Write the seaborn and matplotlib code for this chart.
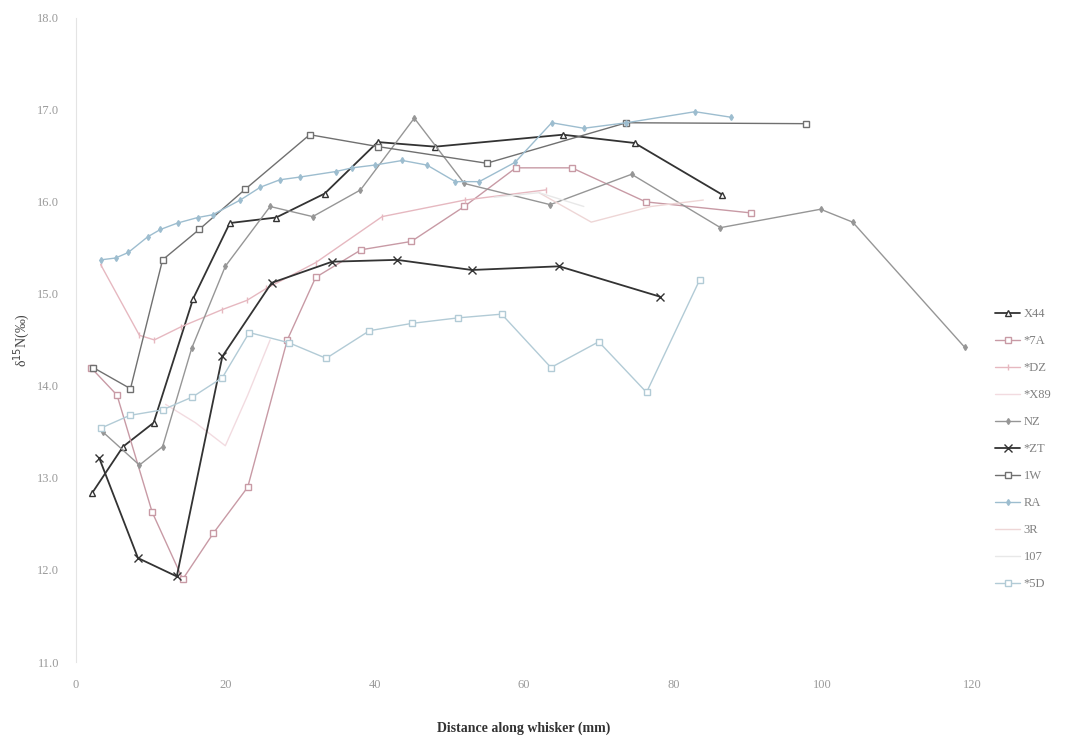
import numpy as np
import pandas as pd
import matplotlib
matplotlib.use('Agg')
import matplotlib.pyplot as plt
import seaborn as sns

# Whisker d15N profiles
x44_x = [2.2, 6.3, 10.4, 15.7, 20.6, 26.8, 33.3, 40.4, 48.1, 65.2, 74.8, 86.5]
x44_y = [12.84, 13.34, 13.6, 14.95, 15.77, 15.83, 16.09, 16.65, 16.6, 16.73, 16.64, 16.08]

a7_x = [2.0, 5.5, 10.2, 14.3, 18.4, 23.0, 28.3, 32.1, 38.2, 44.9, 52.0, 58.9, 66.4, 76.3, 90.4]
a7_y = [14.2, 13.9, 12.63, 11.9, 12.4, 12.9, 14.5, 15.18, 15.48, 15.57, 15.95, 16.37, 16.37, 16.0, 15.88]

dz_x = [3.3, 8.5, 10.5, 14.0, 19.6, 22.9, 25.5, 32.1, 41.0, 52.1, 62.9]
dz_y = [15.32, 14.55, 14.5, 14.64, 14.83, 14.93, 15.06, 15.34, 15.84, 16.02, 16.13]

x89_x = [12.0, 16.0, 20.0, 23.0, 26.0]
x89_y = [13.8, 13.6, 13.35, 13.9, 14.5]

nz_x = [3.6, 8.5, 11.6, 15.5, 20.0, 26.0, 31.7, 38.1, 45.3, 52.0, 63.5, 74.4, 86.3, 99.7, 104.0, 119.0]
nz_y = [13.5, 13.14, 13.34, 14.41, 15.3, 15.95, 15.84, 16.13, 16.91, 16.2, 15.97, 16.3, 15.72, 15.92, 15.78, 14.42]

zt_x = [3.1, 8.3, 13.5, 19.6, 26.2, 34.3, 43.0, 53.0, 64.7, 78.2]
zt_y = [13.22, 12.13, 11.93, 14.32, 15.12, 15.35, 15.37, 15.26, 15.3, 14.97]

w1_x = [2.3, 7.3, 11.6, 16.5, 22.7, 31.3, 40.5, 55.0, 73.7, 97.7]
w1_y = [14.2, 13.97, 15.37, 15.7, 16.14, 16.73, 16.6, 16.42, 16.86, 16.85]

ra_x = [3.3, 5.3, 7.0, 9.6, 11.3, 13.6, 16.3, 18.3, 22.0, 24.7, 27.3, 30.0, 34.8, 37.0, 40.0,
        43.7, 47.0, 50.8, 54.0, 58.8, 63.7, 68.0, 73.7, 82.9, 87.7]
ra_y = [15.37, 15.39, 15.45, 15.62, 15.7, 15.77, 15.83, 15.86, 16.02, 16.16, 16.24, 16.27, 16.33, 16.37, 16.4,
        16.45, 16.4, 16.22, 16.22, 16.43, 16.86, 16.8, 16.86, 16.98, 16.92]

r3_x = [62.0, 69.0, 77.0, 84.0]
r3_y = [16.1, 15.78, 15.95, 16.02]

s107_x = [56.0, 62.0, 68.0]
s107_y = [16.05, 16.1, 15.95]

d5_x = [3.3, 7.2, 11.6, 15.6, 19.6, 23.2, 28.5, 33.5, 39.3, 45.0, 51.2, 57.0, 63.6, 70.0, 76.4, 83.5]
d5_y = [13.54, 13.68, 13.74, 13.88, 14.09, 14.58, 14.47, 14.3, 14.6, 14.68, 14.74, 14.78, 14.2, 14.48, 13.93, 15.15]

series = [
    ('X44', x44_x, x44_y, '#333333', '^', 5, 1.3),
    ('*7A', a7_x, a7_y, '#c89aa5', 's', 5, 1.0),
    ('*DZ', dz_x, dz_y, '#e6b8c0', '|', 4, 1.0),
    ('*X89', x89_x, x89_y, '#f2dbe0', None, 0, 1.0),
    ('NZ', nz_x, nz_y, '#969696', 'd', 3, 1.0),
    ('*ZT', zt_x, zt_y, '#333333', 'x', 6, 1.3),
    ('1W', w1_x, w1_y, '#707070', 's', 5, 1.0),
    ('RA', ra_x, ra_y, '#9dbdcf', 'd', 3, 1.0),
    ('3R', r3_x, r3_y, '#eed6d6', None, 0, 1.0),
    ('107', s107_x, s107_y, '#e8e8e8', None, 0, 1.0),
    ('*5D', d5_x, d5_y, '#b2cbd6', 's', 4, 1.0),
]

sns.set_style('white')
plt.rcParams['font.family'] = ['Liberation Serif', 'DejaVu Serif']

fig = plt.figure(figsize=(10.85, 7.43), dpi=100)
ax = fig.add_axes([0.070, 0.109, 0.826, 0.867])

for name, xs, ys, col, mk, ms, lw in series:
    df = pd.DataFrame({'x': xs, 'y': ys})
    sns.lineplot(data=df, x='x', y='y', ax=ax, color=col, linewidth=lw,
                 marker=mk, markersize=ms, markerfacecolor='white' if mk in ('^', 's') else col,
                 markeredgecolor=col, markeredgewidth=1.0, sort=False, estimator=None,
                 label=name)

ax.set_xlim(0, 120)
ax.set_ylim(11, 18)
ax.set_xticks(np.arange(0, 121, 20))
ax.set_yticks(np.arange(11, 18.1, 1))
ax.set_yticklabels([f'{v:.1f}' for v in np.arange(11, 18.1, 1)])
ax.tick_params(colors='#9a9a9a', labelsize=9, length=0, pad=12)

for side in ['top', 'right', 'bottom']:
    ax.spines[side].set_visible(False)
ax.spines['left'].set_color('#e4e4e4')

ax.set_xlabel('Distance along whisker (mm)', fontsize=10, fontweight='bold',
              color='#333333', labelpad=22)
ax.set_ylabel('δ$^{15}$N(‰)', fontsize=10, color='#444444', labelpad=4)

leg = ax.legend(loc='center left', bbox_to_anchor=(1.02, 0.33), frameon=False,
                fontsize=9, labelspacing=1.2, handlelength=2.0, handletextpad=0.3,
                borderaxespad=0)
for t in leg.get_texts():
    t.set_color('#808080')

fig.savefig('out.png', dpi=100)
